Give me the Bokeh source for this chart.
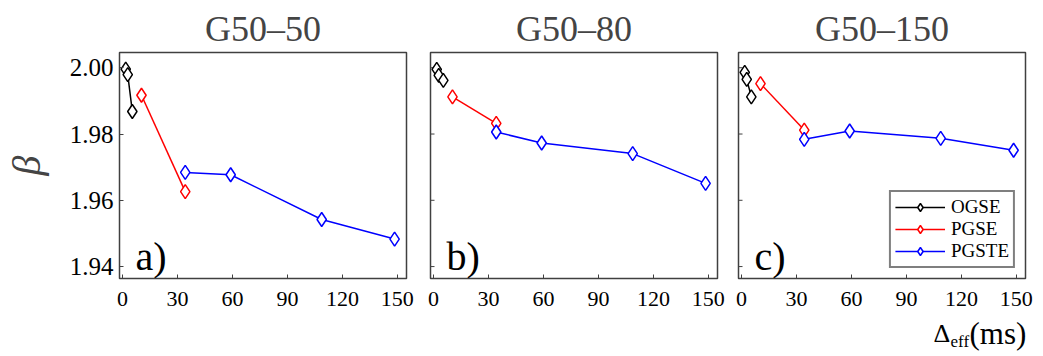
from bokeh.plotting import figure
from bokeh.layouts import row, column
from bokeh.models import Range1d, Label, Legend, LegendItem, FixedTicker, CustomJSTickFormatter
from bokeh.embed import file_html
from bokeh.resources import INLINE

# ---- data ----
panel_titles = ["G50\u201350", "G50\u201380", "G50\u2013150"]
panel_tags = ["a)", "b)", "c)"]
series_names = ["OGSE", "PGSE", "PGSTE"]
series_colors = ["black", "red", "blue"]

ogse_x = [1.7, 2.8, 5.3]
pgse_x = [10.3, 34.2]
pgste_x = [34.2, 59.0, 108.7, 148.5]

ogse_y = [[1.9996, 1.9979, 1.9868], [1.9995, 1.9977, 1.9962], [1.9986, 1.9965, 1.9912]]
pgse_y = [[1.9917, 1.9626], [1.9912, 1.9832], [1.9952, 1.9812]]
pgste_y = [[1.9684, 1.9677, 1.9542, 1.9483], [1.9806, 1.9773, 1.9741, 1.9651], [1.9784, 1.9809, 1.9787, 1.9751]]

x_ticks = [0, 30, 60, 90, 120, 150]
y_ticks = [1.94, 1.96, 1.98, 2.00]

SERIF = "Liberation Serif"
XMIN, XMAX = -1.7, 155.0
YMIN, YMAX = 1.9364, 2.0046
FW, FH = 287, 226
PX_X = FW / (XMAX - XMIN)
PX_Y = FH / (YMAX - YMIN)
TICK_LEN = 4

def px2y(dy):  # pixel offset from frame top (positive down) -> data y
    return YMAX - dy / PX_Y

borders = [(116, 12), (12, 10), (11, 20)]
figs = []
legend_items = []
for i in range(3):
    bl, br = borders[i]
    p = figure(frame_width=FW, frame_height=FH, output_backend="svg", toolbar_location=None,
               x_range=Range1d(XMIN, XMAX), y_range=Range1d(YMIN, YMAX),
               y_axis_location=("left" if i == 0 else None),
               min_border_left=bl, min_border_right=br, min_border_top=52, min_border_bottom=36,
               background_fill_color="white", border_fill_color="white")
    p.title.text = panel_titles[i]
    p.title.text_font = SERIF
    p.title.text_font_size = "36px"
    p.title.text_font_style = "normal"
    p.title.align = "center"
    p.title.standoff = 8
    p.grid.visible = False
    p.outline_line_color = "#404040"
    p.outline_line_width = 1.5
    for ax in p.axis:
        ax.axis_line_color = None
        ax.major_tick_in = TICK_LEN
        ax.major_tick_out = 0
        ax.minor_tick_line_color = None
        ax.major_tick_line_color = "#404040"
        ax.major_label_text_font = SERIF
        ax.major_label_text_color = "black"
    p.xaxis.ticker = FixedTicker(ticks=x_ticks)
    p.xaxis.major_label_text_font_size = "22px"
    p.xaxis.major_label_standoff = 13
    if i == 0:
        p.yaxis.ticker = FixedTicker(ticks=y_ticks)
        p.yaxis.formatter = CustomJSTickFormatter(code="return tick.toFixed(2);")
        p.yaxis.major_label_text_font_size = "25px"
        p.yaxis.major_label_standoff = 6
        p.yaxis.axis_label = "\u03b2"
        p.yaxis.axis_label_text_font = SERIF
        p.yaxis.axis_label_text_font_style = "italic"
        p.yaxis.axis_label_text_font_size = "40px"
        p.yaxis.axis_label_standoff = 18
    else:
        # unlabeled inward y ticks, same tick values as panel a
        p.segment(x0=[XMIN] * len(y_ticks), x1=[XMIN + TICK_LEN / PX_X] * len(y_ticks),
                  y0=y_ticks, y1=y_ticks, line_color="#404040", line_width=1)

    data = [(ogse_x, ogse_y[i]), (pgse_x, pgse_y[i]), (pgste_x, pgste_y[i])]
    for k, (xs, ys) in enumerate(data):
        c = series_colors[k]
        lr = p.line(xs, ys, line_color=c, line_width=1.5)
        sr = p.scatter(xs, ys, marker="diamond", size=14, line_color=c, line_width=1.5, fill_color="white")
        if i == 2:
            legend_items.append(LegendItem(label=series_names[k], renderers=[lr, sr]))

    # panel tag inside the frame, lower left
    p.add_layout(Label(x=7, y=px2y(204), text=panel_tags[i], text_font=SERIF,
                       text_font_size="40px", text_align="left", text_baseline="alphabetic",
                       text_color="black"))
    figs.append(p)

pc = figs[2]
leg = Legend(items=legend_items, location="bottom_right", orientation="vertical",
             label_text_font=SERIF, label_text_font_size="19px", label_text_color="black",
             glyph_width=50, glyph_height=20, label_height=20, label_standoff=6,
             padding=4, spacing=0, margin=10,
             border_line_color="black", border_line_width=2, background_fill_color="white",
             background_fill_alpha=1.0)
pc.add_layout(leg, "center")

# bottom strip holding the x-axis label: Delta_eff (ms)
SW, SH = 1043, 42
strip = figure(width=SW, height=SH, output_backend="svg", toolbar_location=None,
               x_range=Range1d(0, SW), y_range=Range1d(0, SH),
               x_axis_type=None, y_axis_type=None, min_border=0,
               background_fill_color="white", border_fill_color="white")
strip.grid.visible = False
strip.outline_line_color = None
strip.add_layout(Label(x=933, y=23, text="\u0394", text_font=SERIF, text_font_size="26px",
                       text_align="left", text_baseline="alphabetic", text_color="black"))
strip.add_layout(Label(x=950, y=15, text="eff", text_font=SERIF, text_font_size="17px",
                       text_align="left", text_baseline="alphabetic", text_color="black"))
strip.add_layout(Label(x=969, y=23, text="(ms)", text_font=SERIF, text_font_size="31px",
                       text_align="left", text_baseline="alphabetic", text_color="black"))

layout = column(row(*figs, spacing=0), strip, spacing=0)
open("out.html", "w").write(file_html(layout, INLINE))
